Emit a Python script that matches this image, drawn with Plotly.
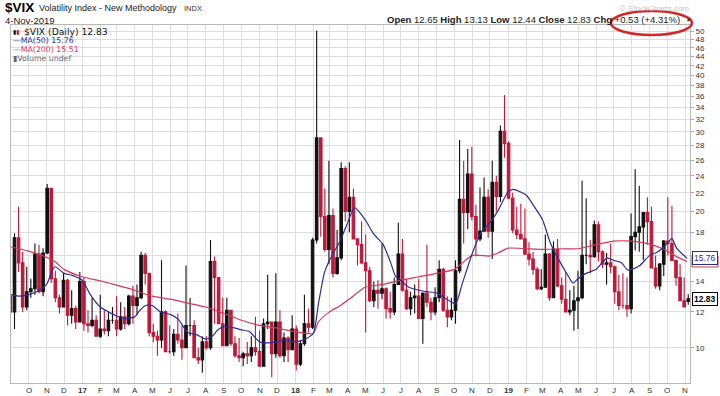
import math
import pandas as pd
import plotly.graph_objects as go

# ---------------- data (weekly OHLC, weeks starting Monday 2016-08-29) ----------------
first_week = "2016-08-29"

open_2016 = [13.0, 12.0, 17.5, 15.4, 12.3, 13.3, 13.5, 16.1, 13.3, 16.2, 22.5, 14.2, 12.9, 12.3, 14.1, 11.8, 12.2, 11.4]
high_2016 = [13.5, 17.9, 20.5, 16.3, 15.1, 14.2, 17.0, 16.9, 16.6, 23.0, 22.5, 14.8, 13.1, 14.6, 14.2, 13.4, 12.4, 14.7]
low_2016 = [11.8, 11.0, 14.7, 12.0, 12.1, 12.9, 13.1, 13.2, 13.0, 16.1, 13.9, 12.6, 11.9, 12.3, 11.2, 11.3, 11.0, 11.4]
close_2016 = [12.0, 17.5, 15.4, 12.3, 13.3, 13.5, 16.1, 13.3, 16.2, 22.5, 14.2, 12.9, 12.3, 14.1, 11.8, 12.2, 11.4, 14.0]

open_2017 = [14.0, 11.3, 11.2, 11.5, 10.6, 11.0, 10.9, 11.5, 11.5, 11.0, 11.7, 11.3, 13.0, 12.4, 12.9, 16.0, 14.6,
             10.8, 10.6, 10.4, 12.0, 9.8, 9.8, 10.7, 10.4, 10.0, 11.2, 11.2, 9.5, 9.4, 10.3, 10.0, 15.5, 14.3,
             11.3, 10.1, 12.1, 10.2, 9.6, 9.5, 9.7, 9.6, 10.0, 9.8, 9.1, 11.3, 11.4, 9.7, 11.4, 9.6, 10.5, 9.9]
high_2017 = [14.3, 12.1, 12.9, 11.8, 13.1, 12.1, 12.0, 12.3, 13.0, 12.6, 12.3, 13.1, 13.7, 13.8, 16.3, 16.2, 14.6,
             11.3, 10.9, 15.6, 12.1, 11.2, 11.0, 11.9, 11.2, 15.2, 12.9, 11.5, 10.0, 10.6, 10.6, 17.3, 15.9, 14.3,
             12.9, 12.9, 12.1, 10.6, 10.5, 9.8, 10.3, 10.6, 11.7, 10.9, 11.6, 14.5, 11.4, 14.6, 12.1, 10.8, 10.6, 11.8]
low_2017 = [10.9, 10.8, 11.1, 10.6, 10.5, 10.7, 10.6, 11.3, 10.6, 10.9, 11.0, 11.2, 11.3, 11.8, 12.8, 13.8, 10.6,
            10.3, 9.6, 10.0, 9.8, 9.7, 9.6, 10.2, 9.4, 10.0, 10.6, 9.5, 9.2, 8.8, 9.9, 9.9, 11.3, 11.3,
            10.1, 10.1, 10.1, 9.5, 9.3, 9.1, 9.2, 9.3, 9.6, 9.1, 9.1, 11.0, 8.6, 9.5, 9.5, 9.3, 9.3, 9.9]
close_2017 = [11.3, 11.2, 11.5, 10.6, 11.0, 10.9, 11.5, 11.5, 11.0, 11.7, 11.3, 13.0, 12.4, 12.9, 16.0, 14.6, 10.8,
              10.6, 10.4, 12.0, 9.8, 9.8, 10.7, 10.4, 10.0, 11.2, 11.2, 9.5, 9.4, 10.3, 10.0, 15.5, 14.3, 11.3,
              10.1, 12.1, 10.2, 9.6, 9.5, 9.7, 9.6, 10.0, 9.8, 9.1, 11.3, 11.4, 9.7, 11.4, 9.6, 10.5, 9.9, 11.0]

open_2018 = [11.0, 9.2, 10.2, 11.3, 11.1, 17.3, 29.1, 19.5, 16.5, 19.6, 14.6, 15.8, 24.9, 20.0, 21.5, 17.4, 16.9,
             15.4, 14.8, 12.7, 13.4, 13.2, 13.5, 12.2, 12.0, 13.8, 16.1, 13.4, 12.2, 12.9, 13.0, 11.6, 13.2, 12.6,
             12.0, 12.9, 14.9, 12.1, 11.7, 12.1, 14.8, 21.3, 19.9, 24.2, 19.5, 17.4, 18.1, 21.5, 18.1, 23.2, 21.6, 30.1]
high_2018 = [11.2, 10.4, 13.1, 12.2, 17.5, 50.3, 29.2, 22.5, 25.9, 20.3, 18.2, 25.7, 25.2, 25.7, 22.5, 17.4, 19.0,
             17.8, 15.1, 14.0, 14.1, 17.0, 13.6, 13.3, 14.3, 18.9, 17.4, 14.2, 13.3, 13.8, 14.2, 13.2, 16.9, 12.9,
             13.6, 15.6, 15.0, 13.0, 12.9, 15.6, 28.8, 25.9, 27.5, 27.8, 20.7, 22.6, 23.8, 22.4, 25.9, 24.0, 31.0, 36.2]
low_2018 = [8.9, 9.1, 10.1, 10.8, 11.0, 17.0, 17.6, 16.3, 15.3, 14.3, 14.5, 15.6, 19.0, 18.0, 17.4, 15.2, 15.3,
            10.8, 12.6, 12.3, 12.2, 12.8, 11.6, 11.6, 11.8, 13.8, 13.3, 12.1, 11.8, 11.9, 11.6, 10.2, 12.3, 11.5,
            11.8, 12.6, 12.0, 11.1, 11.5, 11.3, 14.6, 17.0, 18.3, 19.1, 15.9, 17.2, 18.1, 17.5, 15.7, 20.0, 21.0, 26.3]
close_2018 = [9.2, 10.2, 11.3, 11.1, 17.3, 29.1, 19.5, 16.5, 19.6, 14.6, 15.8, 24.9, 20.0, 21.5, 17.4, 16.9, 15.4,
              14.8, 12.7, 13.4, 13.2, 13.5, 12.2, 12.0, 13.8, 16.1, 13.4, 12.2, 12.9, 13.0, 11.6, 13.2, 12.6, 12.0,
              12.9, 14.9, 12.1, 11.7, 12.1, 14.8, 21.3, 19.9, 24.2, 19.5, 17.4, 18.1, 21.5, 18.1, 23.2, 21.6, 30.1, 28.3]

open_2019 = [28.3, 21.4, 18.2, 17.8, 17.4, 16.1, 15.7, 14.9, 13.5, 13.6, 16.1, 12.9, 16.5, 13.7, 12.8, 12.0, 12.1,
             12.7, 12.9, 16.0, 16.0, 15.9, 18.7, 16.3, 15.3, 15.4, 15.1, 13.3, 12.4, 12.4, 12.2, 17.6, 18.0, 18.5,
             19.9, 19.0, 15.0, 13.7, 15.3, 17.2, 17.0, 15.6, 14.3, 12.7, 12.65]
high_2019 = [28.6, 22.0, 20.5, 20.8, 20.3, 17.1, 16.3, 15.1, 14.9, 17.8, 16.2, 17.2, 17.4, 14.3, 14.7, 13.4, 13.7,
             14.8, 23.4, 21.4, 17.3, 19.1, 19.0, 16.4, 16.2, 17.0, 15.2, 14.5, 14.6, 14.3, 19.8, 24.8, 22.8, 19.9,
             21.5, 20.5, 16.0, 15.4, 17.3, 21.5, 20.6, 15.6, 15.3, 14.3, 13.13]
low_2019 = [21.3, 17.9, 17.4, 17.4, 16.1, 15.2, 14.5, 13.4, 13.4, 13.6, 12.7, 12.9, 13.6, 12.5, 12.0, 11.8, 10.9,
            11.0, 12.8, 15.3, 14.6, 15.8, 15.5, 15.0, 13.8, 14.6, 12.5, 12.1, 12.2, 11.7, 11.9, 16.4, 16.3, 15.6,
            16.9, 15.0, 13.5, 13.4, 14.4, 16.0, 15.6, 13.7, 12.7, 12.3, 12.44]
close_2019 = [21.4, 18.2, 17.8, 17.4, 16.1, 15.7, 14.9, 13.5, 13.6, 16.1, 12.9, 16.5, 13.7, 12.8, 12.0, 12.1, 12.7,
              12.9, 16.0, 16.0, 15.9, 18.7, 16.3, 15.3, 15.4, 15.1, 13.3, 12.4, 12.4, 12.2, 17.6, 18.0, 18.5, 19.9,
              19.0, 15.0, 13.7, 15.3, 17.2, 17.0, 15.6, 14.3, 12.7, 12.3, 12.83]

# moving averages
ma50_dates = ["2016-09-01", "2016-09-15", "2016-10-01", "2016-10-15", "2016-11-01", "2016-11-15", "2016-12-01",
              "2016-12-15", "2017-01-01", "2017-01-15", "2017-02-01", "2017-02-15", "2017-03-01", "2017-03-15",
              "2017-04-01", "2017-04-10", "2017-04-20", "2017-05-01", "2017-05-15", "2017-06-01", "2017-06-15",
              "2017-07-01", "2017-07-15", "2017-08-01", "2017-08-12", "2017-08-20", "2017-09-01", "2017-09-20",
              "2017-10-01", "2017-10-15", "2017-11-01", "2017-11-15", "2017-12-01", "2017-12-15", "2018-01-01",
              "2018-01-15", "2018-02-01", "2018-02-10", "2018-02-20", "2018-03-01", "2018-03-20", "2018-04-01",
              "2018-04-13", "2018-05-01", "2018-05-15", "2018-06-01", "2018-06-14", "2018-06-22", "2018-07-01",
              "2018-07-15", "2018-08-01", "2018-08-15", "2018-09-01", "2018-09-20", "2018-10-03", "2018-10-15",
              "2018-11-01", "2018-11-15", "2018-12-01", "2018-12-15", "2019-01-01", "2019-01-10", "2019-02-01",
              "2019-02-15", "2019-03-01", "2019-03-15", "2019-04-01", "2019-04-15", "2019-04-22", "2019-05-01",
              "2019-05-15", "2019-06-01", "2019-06-20", "2019-07-01", "2019-07-15", "2019-07-25", "2019-08-01",
              "2019-08-15", "2019-09-01", "2019-09-15", "2019-10-01", "2019-10-09", "2019-10-17", "2019-11-04"]
ma50_values = [13.1, 13.0, 13.1, 13.3, 13.8, 15.1, 14.6, 14.45, 14.1, 13.1, 12.3, 12.0, 11.75, 11.6, 11.7, 12.1,
               12.4, 12.4, 12.0, 11.85, 11.55, 10.8, 10.7, 10.45, 10.6, 10.9, 11.15, 11.05, 10.95, 10.85, 10.3,
               10.25, 10.3, 10.4, 10.3, 10.4, 10.75, 12.5, 14.6, 15.6, 17.3, 18.9, 20.4, 19.2, 17.9, 16.9, 15.4,
               14.4, 14.1, 13.6, 13.4, 13.3, 13.2, 12.75, 12.5, 13.9, 16.2, 17.9, 18.9, 20.1, 22.1, 22.4, 21.75,
               20.5, 19.2, 17.0, 15.4, 14.35, 13.9, 14.2, 14.6, 14.9, 15.8, 15.6, 15.4, 14.85, 14.9, 15.2, 16.0,
               16.3, 17.0, 17.45, 16.6, 15.76]

ma200_dates = ["2016-09-01", "2016-10-01", "2016-11-01", "2016-11-15", "2016-12-01", "2017-01-01", "2017-02-01",
               "2017-03-01", "2017-04-01", "2017-05-01", "2017-06-01", "2017-07-01", "2017-08-01", "2017-09-01",
               "2017-10-01", "2017-11-01", "2017-12-01", "2018-01-01", "2018-02-01", "2018-02-10", "2018-03-01",
               "2018-03-20", "2018-04-07", "2018-05-01", "2018-06-01", "2018-07-01", "2018-08-01", "2018-09-01",
               "2018-10-01", "2018-10-15", "2018-11-01", "2018-12-01", "2018-12-15", "2019-01-01", "2019-02-01",
               "2019-03-01", "2019-04-01", "2019-05-01", "2019-06-01", "2019-07-01", "2019-08-01", "2019-09-01",
               "2019-09-25", "2019-10-17", "2019-11-04"]
ma200_values = [16.7, 16.35, 15.85, 15.5, 14.9, 14.35, 14.05, 13.75, 13.4, 13.0, 12.8, 12.55, 12.3, 11.9, 11.5,
                11.2, 11.05, 10.85, 10.75, 11.4, 12.0, 12.4, 12.9, 13.6, 13.8, 14.1, 14.35, 14.6, 14.9, 15.4,
                16.0, 15.95, 16.2, 16.6, 16.55, 16.5, 16.55, 16.55, 16.9, 17.2, 17.2, 16.95, 16.5, 15.9, 15.51]

month_ticks = ["2016-10-01", "2016-11-01", "2016-12-01", "2017-01-01", "2017-02-01", "2017-03-01", "2017-04-01",
               "2017-05-01", "2017-06-01", "2017-07-01", "2017-08-01", "2017-09-01", "2017-10-01", "2017-11-01",
               "2017-12-01", "2018-01-01", "2018-02-01", "2018-03-01", "2018-04-01", "2018-05-01", "2018-06-01",
               "2018-07-01", "2018-08-01", "2018-09-01", "2018-10-01", "2018-11-01", "2018-12-01", "2019-01-01",
               "2019-02-01", "2019-03-01", "2019-04-01", "2019-05-01", "2019-06-01", "2019-07-01", "2019-08-01",
               "2019-09-01", "2019-10-01", "2019-11-01"]
month_labels = ["O", "N", "D", "<b>17</b>", "F", "M", "A", "M", "J", "J", "A", "S", "O", "N", "D", "<b>18</b>",
                "F", "M", "A", "M", "J", "J", "A", "S", "O", "N", "D", "<b>19</b>", "F", "M", "A", "M", "J", "J",
                "A", "S", "O", "N"]
y_ticks = [10, 12, 14, 16, 18, 20, 22, 24, 26, 28, 30, 32, 34, 36, 38, 40, 42, 44, 46, 48, 50]
y_labels = ["10", "12", "14", "", "18", "20", "22", "24", "26", "28", "30", "32", "34", "36", "38", "40",
            "42", "44", "46", "48", "50"]  # "16" is hidden behind the last-value box

# ---------------- assemble ----------------
opens = open_2016 + open_2017 + open_2018 + open_2019
highs = high_2016 + high_2017 + high_2018 + high_2019
lows = low_2016 + low_2017 + low_2018 + low_2019
closes = close_2016 + close_2017 + close_2018 + close_2019
assert len(opens) == len(highs) == len(lows) == len(closes)

weeks = pd.date_range(first_week, periods=len(closes), freq="7D")
x_bars = weeks + pd.Timedelta(days=2)  # centre of the trading week

RED = "#c0183c"
BLK = "#111111"
NAVY = "#2e2e92"
MARED = "#d03a5a"
GRID = "#dedede"
FRAME = "#b8b8b8"

fig = go.Figure()
fig.add_trace(go.Candlestick(
    x=x_bars, open=opens, high=highs, low=lows, close=closes,
    increasing=dict(line=dict(color=BLK, width=1.1), fillcolor=BLK),
    decreasing=dict(line=dict(color=RED, width=1.1), fillcolor=RED),
    whiskerwidth=0, hoverinfo="skip", showlegend=False))
fig.add_trace(go.Scatter(x=pd.to_datetime(ma200_dates), y=ma200_values, mode="lines",
                         line=dict(color=MARED, width=1.2, shape="spline", smoothing=0.6),
                         hoverinfo="skip", showlegend=False))
fig.add_trace(go.Scatter(x=pd.to_datetime(ma50_dates), y=ma50_values, mode="lines",
                         line=dict(color=NAVY, width=1.2, shape="spline", smoothing=0.6),
                         hoverinfo="skip", showlegend=False))

L, R, T, B = 11, 30, 25, 13
W, H = 720, 396
PW, PH = W - L - R, H - T - B


def px(x):
    return (x - L) / PW


def py(y):
    return (H - B - y) / PH


ymin, ymax = math.log10(8.355), math.log10(51.7)

ann = []


def text(t, x, y, size, color="#111", family="Liberation Sans", xanchor="left"):
    ann.append(dict(text=t, x=px(x), y=py(y), xref="paper", yref="paper", xanchor=xanchor,
                    yanchor="middle", showarrow=False, font=dict(size=size, color=color, family=family)))


text("<b>$VIX</b>", 3, 7, 13.5, "#000")
text("Volatility Index - New Methodology", 37, 8, 9, "#222")
text("INDX", 182, 8, 7.5, "#333")
text("4-Nov-2019", 3, 20, 9.5, "#222")
text("© StockCharts.com", 691, 8, 8, "#c4c4c4", xanchor="right")
text("<b>Open</b> 12.65 <b>High</b> 13.13 <b>Low</b> 12.44 <b>Close</b> 12.83 <b>Chg</b> +0.53 (+4.31%)",
     682, 19, 9.5, "#222", xanchor="right")
text("▲", 684, 19, 5, "#333")

text("<span style='color:#111'>▮</span><span style='color:%s'>▮</span>" % RED, 11, 31, 6, "#111", "DejaVu Sans")
text("$VIX (Daily) 12.83", 22, 31, 9.2, "#111", "DejaVu Sans")
text("—MA(50) 15.76", 11, 40, 7.8, NAVY, "DejaVu Sans")
text("—MA(200) 15.51", 11, 49, 7.8, MARED, "DejaVu Sans")
text("▮Volume undef", 11, 58, 7.8, "#666", "DejaVu Sans")

# x-axis month labels, drawn just under the frame
for d, lab in zip(month_ticks, month_labels):
    ann.append(dict(text=lab, x=pd.Timestamp(d), xref="x", y=py(390.5), yref="paper", xanchor="center",
                    yanchor="middle", showarrow=False, font=dict(size=8, color="#333", family="Liberation Sans")))

# last-value boxes on the price axis
for val, col, bold in [(15.76, NAVY, False), (12.83, "#000", True)]:
    t = "%.2f" % val
    ann.append(dict(text=("<b>%s</b>" % t) if bold else t, x=1, xref="paper", xanchor="left", xshift=2,
                    y=math.log10(val), yref="y", yanchor="middle", showarrow=False,
                    font=dict(size=8.5, color=col, family="Liberation Sans"),
                    bgcolor="white", bordercolor=col, borderwidth=1, borderpad=1))

# MA(200) last-value box peeking out below the MA(50) box
f_ma200 = (math.log10(15.51) - ymin) / (ymax - ymin)
shapes = [
    dict(type="rect", xref="paper", yref="paper", x0=px(692), x1=px(718),
         y0=f_ma200 - 5.5 / PH, y1=f_ma200 + 5.5 / PH, line=dict(color=MARED, width=1), fillcolor="white"),
    dict(type="circle", xref="paper", yref="paper", x0=px(611), x1=px(692), y0=py(35), y1=py(11),
         line=dict(color="#d42828", width=2.5)),
]

fig.update_layout(
    width=W, height=H, margin=dict(l=L, r=R, t=T, b=B),
    paper_bgcolor="white", plot_bgcolor="white", showlegend=False,
    boxgap=0.12,
    annotations=ann, shapes=shapes,
    xaxis=dict(type="date", range=["2016-09-01", "2019-11-09"], tickvals=pd.to_datetime(month_ticks),
               ticktext=month_labels, showticklabels=False, showgrid=True, gridcolor=GRID, gridwidth=1,
               showline=True, mirror=True, linecolor=FRAME, linewidth=1, ticks="", zeroline=False,
               automargin=False, rangeslider=dict(visible=False)),
    yaxis=dict(type="log", range=[ymin, ymax], side="right", tickvals=y_ticks,
               ticktext=y_labels, showgrid=True, gridcolor=GRID, gridwidth=1,
               showline=True, mirror=True, linecolor=FRAME, linewidth=1, ticks="outside", ticklen=3,
               tickcolor="#aaaaaa", zeroline=False, automargin=False,
               tickfont=dict(size=8, color="#333", family="Liberation Sans")),
)

fig.write_html("out.html", config={"displayModeBar": False},
               post_script="document.body.style.margin='0';document.body.style.overflow='hidden';")
